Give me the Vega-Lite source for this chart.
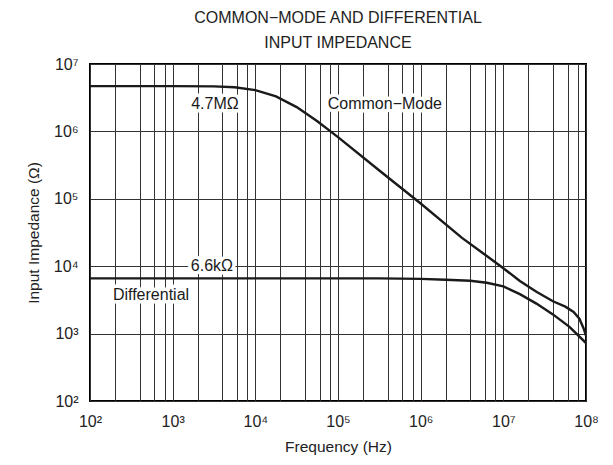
{
  "$schema": "https://vega.github.io/schema/vega-lite/v6.json",
  "width": 496,
  "height": 337,
  "autosize": {"type": "none"},
  "padding": {"left": 90, "top": 64, "right": 27, "bottom": 64},
  "background": "white",
  "config": {
    "font": "Liberation Sans",
    "view": {"stroke": "black", "strokeWidth": 2},
    "axis": {"domain": false, "ticks": false, "gridColor": "#333", "gridWidth": 1, "gridOpacity": 1, "labelFont": "Liberation Sans", "labelFontSize": 16, "labelColor": "#222", "titleFont": "Liberation Sans", "titleFontSize": 15.5, "titleFontWeight": "normal", "titleColor": "#222"}
  },
  "title": {"text": ["COMMON−MODE AND DIFFERENTIAL", "INPUT IMPEDANCE"], "fontSize": 16, "fontWeight": "normal", "font": "Liberation Sans", "color": "#222", "anchor": "middle", "offset": 5, "lineHeight": 25},
  "datasets": {
    "curves": [
      {"series": "Common-Mode", "f": 100, "z": 4700000},
      {"series": "Common-Mode", "f": 1000, "z": 4700000},
      {"series": "Common-Mode", "f": 3162, "z": 4656000},
      {"series": "Common-Mode", "f": 5623, "z": 4519000},
      {"series": "Common-Mode", "f": 10000, "z": 4093000},
      {"series": "Common-Mode", "f": 17783, "z": 3311000},
      {"series": "Common-Mode", "f": 31623, "z": 2291000},
      {"series": "Common-Mode", "f": 56234, "z": 1413000},
      {"series": "Common-Mode", "f": 100000, "z": 822200},
      {"series": "Common-Mode", "f": 316228, "z": 263000},
      {"series": "Common-Mode", "f": 1000000, "z": 85110},
      {"series": "Common-Mode", "f": 3162278, "z": 26300},
      {"series": "Common-Mode", "f": 6309573, "z": 14130},
      {"series": "Common-Mode", "f": 10000000, "z": 9333},
      {"series": "Common-Mode", "f": 15848932, "z": 6026},
      {"series": "Common-Mode", "f": 25118864, "z": 4169},
      {"series": "Common-Mode", "f": 39810717, "z": 3020},
      {"series": "Common-Mode", "f": 56234133, "z": 2512},
      {"series": "Common-Mode", "f": 70794578, "z": 2089},
      {"series": "Common-Mode", "f": 83176377, "z": 1660},
      {"series": "Common-Mode", "f": 93325430, "z": 1202},
      {"series": "Common-Mode", "f": 100000000, "z": 933},
      {"series": "Differential", "f": 100, "z": 6600},
      {"series": "Differential", "f": 10000, "z": 6600},
      {"series": "Differential", "f": 100000, "z": 6600},
      {"series": "Differential", "f": 316228, "z": 6590},
      {"series": "Differential", "f": 1000000, "z": 6486},
      {"series": "Differential", "f": 1995262, "z": 6310},
      {"series": "Differential", "f": 3981072, "z": 6095},
      {"series": "Differential", "f": 6309573, "z": 5689},
      {"series": "Differential", "f": 10000000, "z": 5012},
      {"series": "Differential", "f": 15848932, "z": 3846},
      {"series": "Differential", "f": 25118864, "z": 2786},
      {"series": "Differential", "f": 39810717, "z": 1928},
      {"series": "Differential", "f": 63095734, "z": 1259},
      {"series": "Differential", "f": 100000000, "z": 724}
    ],
    "notes": [
      {"label": "4.7MΩ", "f": 3250, "z": 2560000},
      {"label": "Common−Mode", "f": 369000, "z": 2560000},
      {"label": "6.6kΩ", "f": 2985, "z": 10000},
      {"label": "Differential", "f": 547, "z": 3740}
    ]
  },
  "encoding": {
    "x": {"field": "f", "type": "quantitative", "scale": {"type": "log", "domain": [100, 100000000]},
      "axis": {"title": "Frequency (Hz)", "titlePadding": 10, "labelPadding": 12, "labelOverlap": false, "labelFlush": false,
        "values": [100, 200, 400, 600, 800, 1000, 2000, 4000, 6000, 8000, 10000, 20000, 40000, 60000, 80000, 100000, 200000, 400000, 600000, 800000, 1000000, 2000000, 4000000, 6000000, 8000000, 10000000, 20000000, 40000000, 60000000, 80000000, 100000000],
        "labelExpr": "abs(log(datum.value)/LN10 - round(log(datum.value)/LN10)) < 0.001 ? '10' + ['⁰','¹','²','³','⁴','⁵','⁶','⁷','⁸','⁹'][round(log(datum.value)/LN10)] : ''"}},
    "y": {"field": "z", "type": "quantitative", "scale": {"type": "log", "domain": [100, 10000000]},
      "axis": {"title": "Input Impedance (Ω)", "titlePadding": 12, "labelPadding": 12, "labelOverlap": false,
        "values": [100, 1000, 10000, 100000, 1000000, 10000000],
        "labelExpr": "'10' + ['⁰','¹','²','³','⁴','⁵','⁶','⁷','⁸','⁹'][round(log(datum.value)/LN10)]"}}
  },
  "layer": [
    {"data": {"name": "curves"}, "mark": {"type": "line", "color": "#1a1a1a", "strokeWidth": 2.4, "clip": true}, "encoding": {"detail": {"field": "series"}}},
    {"data": {"name": "notes"}, "mark": {"type": "text", "fontSize": 16, "font": "Liberation Sans", "align": "center", "baseline": "middle", "stroke": "white", "strokeWidth": 7, "strokeJoin": "round", "fill": "white"}, "encoding": {"text": {"field": "label"}}},
    {"data": {"name": "notes"}, "mark": {"type": "text", "fontSize": 16, "font": "Liberation Sans", "align": "center", "baseline": "middle", "fill": "#1a1a1a"}, "encoding": {"text": {"field": "label"}}}
  ]
}
